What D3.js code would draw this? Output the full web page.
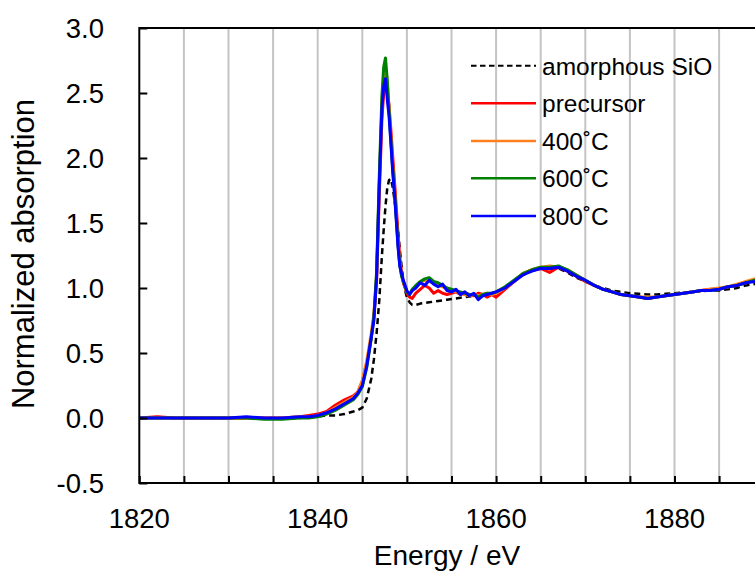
<!DOCTYPE html>
<html><head><meta charset="utf-8">
<script src="https://cdn.jsdelivr.net/npm/d3@7"></script>
<style>html,body{margin:0;padding:0;background:#fff;overflow:hidden}</style>
</head><body>
<svg id="c" width="755" height="574"></svg>
<script>
const energy = [1820,1822,1824,1826,1828,1830,1832,1834,1836,1838,1839,1840,1841,1842,1843,1844,1844.5,1845,1845.5,1846,1846.3,1846.6,1846.9,1847.2,1847.4,1847.6,1847.8,1848.0,1848.2,1848.4,1848.6,1848.8,1849.0,1849.2,1849.4,1849.6,1849.8,1850.0,1850.3,1850.6,1851.0,1851.5,1852.0,1852.5,1853.0,1853.5,1854.0,1854.5,1855,1855.5,1856,1856.5,1857,1857.5,1858,1858.5,1859,1859.5,1860,1861,1862,1863,1864,1865,1866,1867,1868,1869,1870,1871,1872,1873,1874,1875,1876,1877,1878,1879,1880,1881,1882,1883,1884,1885,1886,1887,1888,1889,1890];

const amorphousSiO = [0.00,0.00,0.00,0.00,0.00,0.00,0.00,0.00,0.00,0.00,0.01,0.01,0.02,0.02,0.03,0.05,0.06,0.08,0.15,0.30,0.45,0.65,0.90,1.25,1.45,1.63,1.77,1.83,1.84,1.78,1.68,1.59,1.45,1.30,1.17,1.06,0.98,0.93,0.89,0.87,0.87,0.88,0.885,0.89,0.895,0.90,0.905,0.91,0.915,0.92,0.925,0.93,0.935,0.94,0.945,0.95,0.955,0.96,0.97,1.00,1.05,1.10,1.13,1.15,1.15,1.15,1.12,1.08,1.05,1.02,1.00,0.98,0.97,0.96,0.955,0.95,0.95,0.955,0.96,0.965,0.97,0.975,0.98,0.98,0.99,1.00,1.02,1.03,1.05];

const precursor = [0.00,0.01,0.00,0.00,0.00,0.00,0.00,0.00,0.00,0.01,0.02,0.03,0.05,0.10,0.14,0.17,0.20,0.28,0.42,0.62,0.78,1.05,1.70,2.30,2.50,2.58,2.52,2.40,2.22,2.02,1.83,1.63,1.42,1.24,1.12,1.04,1.00,0.96,0.93,0.92,0.96,0.99,1.02,1.00,0.96,0.98,0.96,0.95,0.96,0.97,0.95,0.96,0.95,0.94,0.96,0.95,0.93,0.95,0.93,0.99,1.05,1.11,1.14,1.15,1.12,1.16,1.13,1.09,1.05,1.02,0.99,0.97,0.95,0.94,0.93,0.92,0.93,0.94,0.95,0.96,0.97,0.98,0.99,0.99,1.01,1.02,1.04,1.06,1.08];

const t400 = [0.00,0.00,0.00,0.00,0.00,0.00,0.00,0.00,0.00,0.01,0.01,0.02,0.04,0.08,0.12,0.16,0.20,0.29,0.44,0.65,0.80,1.10,1.80,2.42,2.64,2.70,2.58,2.38,2.16,1.94,1.76,1.56,1.35,1.19,1.10,1.05,1.01,0.97,0.95,0.98,1.01,1.04,1.06,1.05,1.04,1.02,1.01,0.99,0.98,0.97,0.96,0.95,0.94,0.95,0.94,0.95,0.96,0.95,0.96,1.00,1.05,1.11,1.14,1.16,1.17,1.16,1.14,1.10,1.06,1.02,0.99,0.97,0.95,0.94,0.93,0.93,0.93,0.94,0.95,0.96,0.97,0.98,0.99,1.00,1.01,1.03,1.05,1.07,1.09];

const t600 = [0.00,0.00,0.00,0.00,0.00,0.00,0.00,-0.01,-0.01,0.00,0.00,0.01,0.03,0.06,0.10,0.14,0.18,0.24,0.39,0.61,0.78,1.12,1.85,2.48,2.70,2.77,2.60,2.36,2.14,1.93,1.75,1.55,1.34,1.18,1.09,1.05,1.01,0.97,0.95,0.99,1.02,1.05,1.07,1.08,1.05,1.04,1.02,1.00,0.99,0.98,0.97,0.96,0.95,0.95,0.93,0.95,0.96,0.96,0.97,1.01,1.06,1.11,1.14,1.16,1.16,1.17,1.14,1.10,1.06,1.02,0.99,0.97,0.95,0.94,0.93,0.92,0.93,0.94,0.95,0.96,0.97,0.98,0.98,0.99,1.01,1.02,1.04,1.06,1.08];

const t800 = [0.00,0.00,0.00,0.00,0.00,0.00,0.01,0.00,0.00,0.01,0.01,0.02,0.04,0.07,0.11,0.15,0.19,0.25,0.40,0.62,0.75,1.08,1.78,2.38,2.55,2.61,2.45,2.32,2.12,1.90,1.73,1.53,1.32,1.17,1.11,1.06,1.02,0.98,0.95,0.98,1.00,1.04,1.02,1.06,1.03,1.01,1.03,0.98,0.97,0.99,0.95,0.97,0.94,0.96,0.91,0.94,0.95,0.96,0.97,1.00,1.05,1.10,1.13,1.15,1.15,1.16,1.13,1.09,1.06,1.02,0.99,0.97,0.95,0.94,0.93,0.92,0.93,0.94,0.95,0.96,0.97,0.98,0.98,0.99,1.01,1.02,1.04,1.05,1.07];

const seriesNames = ["amorphous SiO","precursor","400˚C","600˚C","800˚C"];
const seriesColors = ["#000000","#ff0000","#ff7f1e","#008000","#0000ff"];
const seriesValues = [amorphousSiO, precursor, t400, t600, t800];
const xTicks = [1820,1840,1860,1880];
const yTicks = [-0.5,0,0.5,1.0,1.5,2.0,2.5,3.0];
const yTickLabels = ["-0.5","0.0","0.5","1.0","1.5","2.0","2.5","3.0"];

const svg = d3.select("#c");
const x = d3.scaleLinear().domain([1820,1890]).range([139.3,763.7]);
const y = d3.scaleLinear().domain([-0.5,3.0]).range([483,28]);
const font = "'Liberation Sans', Arial, sans-serif";

// gridlines
svg.append("g").selectAll("line").data(d3.range(1825,1890,5)).join("line")
  .attr("x1",d=>x(d)).attr("x2",d=>x(d)).attr("y1",y(3.0)).attr("y2",y(-0.5))
  .attr("stroke","#c4c4c4").attr("stroke-width",2);

// curves
const line = d3.line().x((d,i)=>x(energy[i])).y(d=>y(d));
seriesValues.forEach((vals,k)=>{
  svg.append("path").datum(vals).attr("d",line)
    .attr("fill","none").attr("stroke",seriesColors[k])
    .attr("stroke-width",k===0?2.5:3)
    .attr("stroke-linejoin","round")
    .attr("stroke-dasharray",k===0?"6,4":null);
});

// frame
svg.append("rect").attr("x",x(1820)).attr("y",y(3.0)).attr("width",x(1890)-x(1820)).attr("height",y(-0.5)-y(3.0))
  .attr("fill","none").attr("stroke","#000").attr("stroke-width",2);

// ticks (inside)
const yAxis = d3.axisRight(y).tickValues(yTicks).tickSize(8).tickFormat("");
svg.append("g").attr("transform",`translate(${x(1820)},0)`).call(yAxis)
  .call(g=>g.select(".domain").remove())
  .call(g=>g.selectAll("line").attr("stroke","#000").attr("stroke-width",2));
const xAxis = d3.axisTop(x).tickValues(d3.range(1820,1891,5)).tickSize(7).tickFormat("");
svg.append("g").attr("transform",`translate(0,${y(-0.5)})`).call(xAxis)
  .call(g=>g.select(".domain").remove())
  .call(g=>g.selectAll("line").attr("stroke","#000").attr("stroke-width",2));

// tick labels
svg.append("g").selectAll("text").data(yTicks).join("text")
  .attr("x",104).attr("y",d=>y(d)+10).attr("text-anchor","end")
  .attr("font-family",font).attr("font-size",27.5).attr("fill","#000")
  .text((d,i)=>yTickLabels[i]);
svg.append("g").selectAll("text").data(xTicks).join("text")
  .attr("x",d=>x(d)).attr("y",528).attr("text-anchor","middle")
  .attr("font-family",font).attr("font-size",27.5).attr("fill","#000")
  .text(d=>d);

// axis titles
svg.append("text").attr("x",447).attr("y",565).attr("text-anchor","middle")
  .attr("font-family",font).attr("font-size",28).text("Energy / eV");
svg.append("text").attr("transform","translate(33.5,254) rotate(-90)").attr("text-anchor","middle")
  .attr("font-family",font).attr("font-size",31).text("Normalized absorption");

// legend
const legY = [65.7,103.3,141,178.3,216];
seriesNames.forEach((name,k)=>{
  svg.append("line").attr("x1",471).attr("x2",536).attr("y1",legY[k]).attr("y2",legY[k])
    .attr("stroke",seriesColors[k]).attr("stroke-width",k===0?2:2.5)
    .attr("stroke-dasharray",k===0?"5.5,3.5":null);
  svg.append("text").attr("x",542).attr("y",legY[k]+9)
    .attr("font-family",font).attr("font-size",24.5).attr("fill","#000").text(name);
});
</script>
</body></html>
